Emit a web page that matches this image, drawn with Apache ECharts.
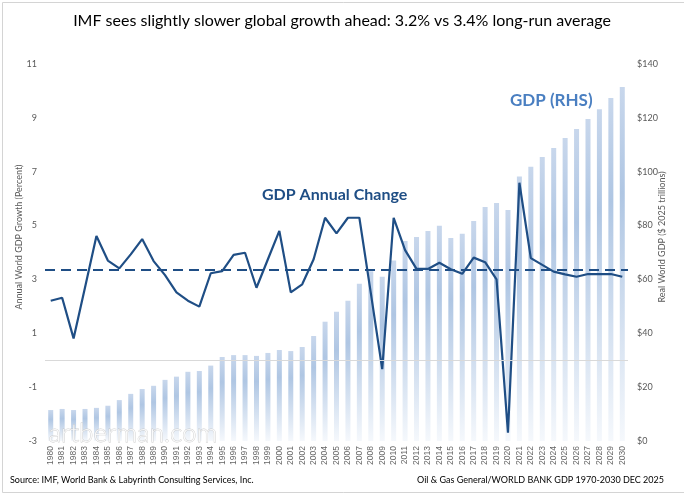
<!DOCTYPE html>
<html>
<head>
<meta charset="utf-8">
<script src="https://cdn.jsdelivr.net/npm/echarts@6/dist/echarts.min.js"></script>
<style>
  html, body {margin: 0; padding: 0; background: #fff;}
  #main {width: 684px; height: 496px;}
</style>
</head>
<body>
<div id="main"></div>
<script>
const years = [];
for (let y = 1980; y <= 2030; y++) years.push(String(y));

// annual world GDP growth, percent (left axis)
const growth = [
    2.21, 2.32, 0.81, 2.7, 4.61, 3.70, 3.41, 3.93, 4.50, 3.68,
    3.16, 2.52, 2.21, 1.99, 3.23, 3.31, 3.91, 3.99, 2.69, 3.75,
    4.80, 2.52, 2.82, 3.75, 5.29, 4.71, 5.29, 5.29, 2.5, -0.33,
    5.29, 4.09, 3.39, 3.39, 3.62, 3.38, 3.21, 3.81, 3.64, 3.0,
    -2.69, 6.59, 3.79, 3.54, 3.29, 3.19, 3.10, 3.2, 3.2, 3.2,
    3.10
];

// real world GDP, $ 2025 trillions (right axis)
const gdp = [
    11.5, 11.9, 11.5, 11.9, 12.3, 13.1, 15.2, 17.5, 19.3, 20.5,
    22.7, 23.9, 25.7, 26.0, 28.0, 31.2, 31.9, 31.9, 31.6, 32.7,
    33.8, 33.4, 34.9, 39.0, 44.3, 48.0, 52.1, 58.4, 63.0, 61.0,
    67.0, 74.3, 75.8, 78.0, 79.9, 75.4, 77.0, 81.7, 86.9, 88.4,
    85.8, 98.2, 101.8, 105.5, 108.8, 112.5, 115.9, 119.6, 123.2, 127.4,
    131.5
];

const longRunAvg = 3.35;

const chartDom = document.getElementById('main');
const myChart = echarts.init(chartDom);
let option;

const font = 'Lato, "Open Sans", sans-serif';
const darkBlue = '#1f4e85';

option = {
    backgroundColor: '#fff',
    animation: false,
    textStyle: {fontFamily: font},
    title: {
        text: 'IMF sees slightly slower global growth ahead: 3.2% vs 3.4% long-run average',
        left: 'center',
        top: 8,
        textStyle: {fontSize: 16, fontWeight: 'normal', color: '#000', fontFamily: font}
    },
    grid: {left: 45, right: 56, top: 64, bottom: 55},
    xAxis: {
        type: 'category',
        data: years,
        axisLine: {show: false},
        axisTick: {show: false},
        axisLabel: {rotate: 90, interval: 0, fontSize: 8.5, color: '#666', margin: 5, fontFamily: 'Liberation Sans'}
    },
    yAxis: [
        {
            type: 'value',
            min: -3, max: 11, interval: 2,
            splitLine: {show: false},
            axisLine: {show: false},
            axisTick: {show: false},
            axisLabel: {fontSize: 9, color: '#595959', margin: 8}
        },
        {
            type: 'value',
            min: 0, max: 140, interval: 20,
            splitLine: {show: false},
            axisLine: {show: false},
            axisTick: {show: false},
            axisLabel: {fontSize: 9, color: '#595959', margin: 9, formatter: '${value}'}
        }
    ],
    series: [
        {
            // zero reference line, behind the bars
            name: 'zero',
            type: 'line',
            data: [],
            z: 1,
            silent: true,
            markLine: {
                symbol: 'none',
                silent: true,
                label: {show: false},
                lineStyle: {color: '#d9d9d9', type: 'solid', width: 1},
                data: [{yAxis: 0}]
            }
        },
        {
            name: 'GDP (RHS)',
            type: 'bar',
            yAxisIndex: 1,
            barWidth: 5,
            z: 2,
            itemStyle: {
                color: new echarts.graphic.LinearGradient(0, 0, 0, 1, [
                    {offset: 0, color: '#c8d7ec'},
                    {offset: 0.3, color: '#afc6e3'},
                    {offset: 1, color: '#f5f8fc'}
                ])
            },
            data: gdp
        },
        {
            name: 'GDP Annual Change',
            type: 'line',
            yAxisIndex: 0,
            z: 3,
            symbol: 'none',
            lineStyle: {color: darkBlue, width: 2.2},
            data: growth,
            markLine: {
                symbol: 'none',
                silent: true,
                label: {show: false},
                lineStyle: {color: darkBlue, type: [10, 6], width: 2.2},
                data: [{yAxis: longRunAvg}]
            }
        }
    ],
    graphic: [
        {
            type: 'rect', left: 0, top: 0, silent: true,
            shape: {x: 0.5, y: 0.5, width: 683, height: 490},
            style: {fill: null, stroke: '#d4d4d4', lineWidth: 1}
        },
        {
            type: 'text', left: 262, top: 187,
            style: {text: 'GDP Annual Change', fill: darkBlue, font: 'bold 16px ' + font}
        },
        {
            type: 'text', left: 510, top: 92,
            style: {text: 'GDP (RHS)', fill: '#4a7fc1', font: 'bold 17px ' + font}
        },
        {
            type: 'text', x: 19, y: 237, rotation: Math.PI / 2,
            style: {text: 'Annual World GDP Growth (Percent)', fill: '#595959', font: '9px ' + font, align: 'center', verticalAlign: 'middle'}
        },
        {
            type: 'text', x: 662, y: 237, rotation: Math.PI / 2,
            style: {text: 'Real World GDP ($ 2025 trillions)', fill: '#595959', font: '9px ' + font, align: 'center', verticalAlign: 'middle'}
        },
        {
            type: 'text', left: 48, top: 420, z: 10,
            style: {text: 'artberman.com', fill: 'rgba(255,255,255,0.85)', stroke: 'rgba(190,190,190,0.75)', lineWidth: 0.8, font: '300 26px ' + font}
        },
        {
            type: 'text', left: 10, top: 476,
            style: {text: 'Source: IMF, World Bank & Labyrinth Consulting Services, Inc.', fill: '#000', font: '9px ' + font}
        },
        {
            type: 'text', right: 20, top: 476,
            style: {text: 'Oil & Gas General/WORLD BANK GDP 1970-2030 DEC 2025', fill: '#000', font: '9px ' + font}
        }
    ]
};

option && myChart.setOption(option);
</script>
</body>
</html>
